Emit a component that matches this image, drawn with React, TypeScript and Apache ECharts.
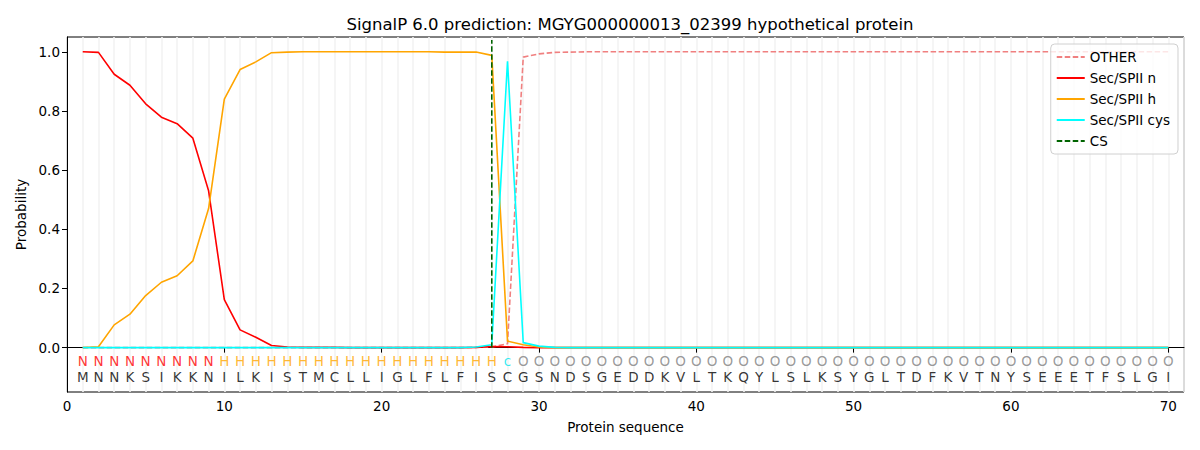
import React, { useEffect, useRef } from "react";
import * as echarts from "echarts";

const sequence = "MNNKSIKKNILKISTMCLLIGLFLFISCGSNDSGEDDKVLTKQYLSLKSYGLTDFKVTNYSEEETFSLGI".split("");
const regionLabels = "NNNNNNNNNHHHHHHHHHHHHHHHHHHcOOOOOOOOOOOOOOOOOOOOOOOOOOOOOOOOOOOOOOOOOO".split("");

const otherProb = [
  0, 0, 0, 0, 0, 0, 0, 0, 0, 0,
  0, 0, 0, 0, 0, 0, 0, 0, 0, 0,
  0, 0, 0, 0, 0, 0.001, 0.002, 0.013, 0.982, 0.993,
  0.998, 0.999, 1, 1, 1, 1, 1, 1, 1, 1,
  1, 1, 1, 1, 1, 1, 1, 1, 1, 1,
  1, 1, 1, 1, 1, 1, 1, 1, 1, 1,
  1, 1, 1, 1, 1, 1, 1, 1, 1, 1,
];
const secN = [
  1.0, 0.998, 0.924, 0.887, 0.824, 0.779, 0.757, 0.708, 0.53, 0.162,
  0.06, 0.035, 0.007, 0.002, 0.001, 0.001, 0.001, 0, 0, 0,
  0, 0, 0, 0, 0, 0.001, 0.004, 0.003, 0.001, 0,
  0, 0, 0, 0, 0, 0, 0, 0, 0, 0,
  0, 0, 0, 0, 0, 0, 0, 0, 0, 0,
  0, 0, 0, 0, 0, 0, 0, 0, 0, 0,
  0, 0, 0, 0, 0, 0, 0, 0, 0, 0,
];
const secH = [
  0, 0.003, 0.077, 0.113, 0.176, 0.221, 0.243, 0.293, 0.47, 0.84,
  0.94, 0.966, 0.997, 0.999, 1.0, 1.0, 1.0, 1.0, 1.0, 1.0,
  1.0, 1.0, 1.0, 0.999, 0.999, 0.999, 0.988, 0.022, 0.01, 0.002,
  0, 0, 0, 0, 0, 0, 0, 0, 0, 0,
  0, 0, 0, 0, 0, 0, 0, 0, 0, 0,
  0, 0, 0, 0, 0, 0, 0, 0, 0, 0,
  0, 0, 0, 0, 0, 0, 0, 0, 0, 0,
];
const secCys = [
  0, 0, 0, 0, 0, 0, 0, 0, 0, 0,
  0, 0, 0, 0, 0, 0, 0, 0, 0, 0,
  0, 0, 0, 0, 0, 0.002, 0.01, 0.968, 0.017, 0.005,
  0.001, 0, 0, 0, 0, 0, 0, 0, 0, 0,
  0, 0, 0, 0, 0, 0, 0, 0, 0, 0,
  0, 0, 0, 0, 0, 0, 0, 0, 0, 0,
  0, 0, 0, 0, 0, 0, 0, 0, 0, 0,
];
const csPosition = 27;
const csLine = [0, 1.04];
const yTicks = [0, 0.2, 0.4, 0.6, 0.8, 1.0];
const xTicks = [0, 10, 20, 30, 40, 50, 60, 70];

const labelColors: Record<string, string> = { N: "#ff0000", H: "#ffa500", c: "#00e5ee", O: "#808080" };

const FONT = "DejaVu Sans";

export default function App() {
  const ref = useRef<HTMLDivElement>(null);
  useEffect(() => {
    document.body.style.margin = "0";
    const chart = echarts.init(ref.current!, null, { renderer: "svg" });
    const pos = sequence.map((_, i) => i + 1);
    const toData = (arr: number[]) => arr.map((v, i) => [pos[i], v]);
    const lineBase = { type: "line", showSymbol: false, symbol: "none", z: 3 };
    chart.setOption({
      animation: false,
      textStyle: { fontFamily: FONT },
      title: {
        text: "SignalP 6.0 prediction: MGYG000000013_02399 hypothetical protein",
        left: 625,
        textAlign: "center",
        top: 11,
        textStyle: { fontFamily: FONT, fontSize: 16.5, fontWeight: "normal", color: "#000" },
      },
      grid: { left: 67, right: 16, top: 37, bottom: 58, show: true, borderColor: "#000", borderWidth: 1, backgroundColor: "transparent" },
      legend: {
        orient: "vertical",
        right: 22,
        top: 44,
        itemWidth: 28,
        itemHeight: 10,
        itemGap: 7,
        padding: [6, 8, 6, 5],
        backgroundColor: "rgba(255,255,255,0.8)",
        borderColor: "#d0d0d0",
        borderWidth: 1,
        borderRadius: 4,
        itemStyle: { opacity: 0, color: "transparent", borderWidth: 0 },
        textStyle: { fontFamily: FONT, fontSize: 13.5, color: "#000" },
        data: ["OTHER", "Sec/SPII n", "Sec/SPII h", "Sec/SPII cys", "CS"],
      },
      xAxis: [
        {
          type: "value",
          min: 0,
          max: 71,
          name: "Protein sequence",
          nameLocation: "middle",
          nameGap: 28,
          nameTextStyle: { fontFamily: FONT, fontSize: 13.5, color: "#000" },
          axisLine: { show: true, lineStyle: { color: "#000" } },
          axisTick: { show: true, length: 5, customValues: xTicks, lineStyle: { color: "#000" } },
          axisLabel: { customValues: xTicks, fontFamily: FONT, fontSize: 13.5, color: "#000", margin: 7 },
          splitLine: { show: false },
        },
        {
          type: "value",
          min: 0,
          max: 71,
          interval: 1,
          position: "bottom",
          axisLine: { show: false },
          axisTick: { show: false },
          axisLabel: { show: false },
          splitLine: { show: true, lineStyle: { color: "#f3f3f3", width: 1.6 } },
        },
      ],
      yAxis: {
        type: "value",
        min: -0.15,
        max: 1.05,
        name: "Probability",
        nameLocation: "middle",
        nameGap: 38,
        nameTextStyle: { fontFamily: FONT, fontSize: 13.5, color: "#000" },
        axisLine: { show: true, lineStyle: { color: "#000" } },
        axisTick: { show: true, length: 5, customValues: yTicks, lineStyle: { color: "#000" } },
        axisLabel: {
          customValues: yTicks,
          fontFamily: FONT,
          fontSize: 13.5,
          color: "#000",
          margin: 7,
          formatter: (v: number) => v.toFixed(1),
        },
        splitLine: { show: false },
      },
      series: [
        { ...lineBase, name: "OTHER", data: toData(otherProb), color: "#f08080", lineStyle: { color: "#f08080", width: 1.6, type: [5.5, 2.5] } },
        { ...lineBase, name: "Sec/SPII n", data: toData(secN), color: "#ff0000", lineStyle: { color: "#ff0000", width: 1.6 } },
        { ...lineBase, name: "Sec/SPII h", data: toData(secH), color: "#ffa500", lineStyle: { color: "#ffa500", width: 1.6 } },
        { ...lineBase, name: "Sec/SPII cys", data: toData(secCys), color: "#00ffff", lineStyle: { color: "#00ffff", width: 1.6 } },
        {
          ...lineBase,
          name: "CS",
          data: csLine.map((v) => [csPosition, v]),
          color: "#006400",
          lineStyle: { color: "#006400", width: 1.6, type: [5.5, 2.5] },
          z: 4,
        },
        {
          type: "scatter",
          symbolSize: 0,
          silent: true,
          z: 5,
          data: regionLabels.map((l, i) => ({
            value: [pos[i], -0.045, l],
            label: { color: labelColors[l] },
          })),
          label: {
            show: true,
            position: "inside",
            fontFamily: FONT,
            fontSize: 13.5,
            formatter: (p: any) => p.value[2],
          },
        },
        {
          type: "scatter",
          symbolSize: 0,
          silent: true,
          z: 5,
          data: sequence.map((s, i) => [pos[i], -0.1, s]),
          label: {
            show: true,
            position: "inside",
            fontFamily: FONT,
            fontSize: 13.5,
            color: "#000",
            formatter: (p: any) => p.value[2],
          },
        },
      ],
    });
    return () => chart.dispose();
  }, []);
  return <div ref={ref} style={{ width: 1200, height: 450 }} />;
}
